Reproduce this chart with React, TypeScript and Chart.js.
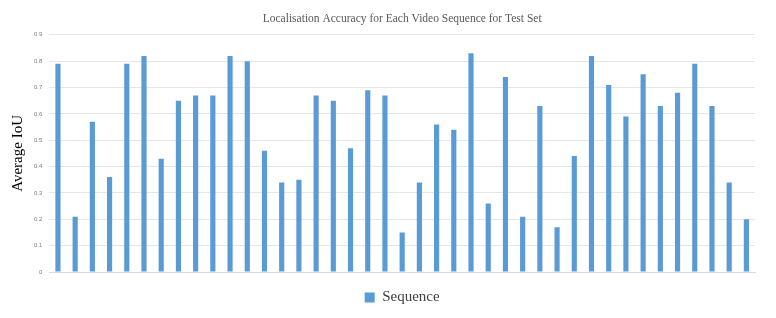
import React, { useEffect, useRef } from "react";
import { Chart, registerables } from "chart.js";

Chart.register(...registerables);

const categories: string[] = Array.from({ length: 41 }, (_, i) => `${i + 1}`);
const sequenceValues: number[] = [
  0.79, 0.21, 0.57, 0.36, 0.79, 0.82, 0.43, 0.65, 0.67, 0.67,
  0.82, 0.80, 0.46, 0.34, 0.35, 0.67, 0.65, 0.47, 0.69, 0.67,
  0.15, 0.34, 0.56, 0.54, 0.83, 0.26, 0.74, 0.21, 0.63, 0.17,
  0.44, 0.82, 0.71, 0.59, 0.75, 0.63, 0.68, 0.79, 0.63, 0.34,
  0.20,
];
const yTicks: number[] = [0, 0.1, 0.2, 0.3, 0.4, 0.5, 0.6, 0.7, 0.8, 0.9];

const SERIF = "'Liberation Serif', 'Times New Roman', serif";

export default function App() {
  const ref = useRef<HTMLCanvasElement>(null);
  useEffect(() => {
    document.body.style.margin = "0";
    const chart = new Chart(ref.current!, {
      type: "bar",
      data: {
        labels: categories,
        datasets: [
          {
            label: "Sequence",
            data: sequenceValues,
            backgroundColor: "#5B9BD5",
            borderWidth: 0,
            barPercentage: 0.3,
            categoryPercentage: 1,
          },
        ],
      },
      options: {
        animation: false,
        responsive: false,
        maintainAspectRatio: false,
        layout: { padding: { left: 2, right: 21, top: 10, bottom: 3 } },
        plugins: {
          title: {
            display: true,
            fullSize: false,
            text: "Localisation Accuracy for Each Video Sequence for Test Set",
            color: "#595959",
            font: { family: SERIF, size: 11.5, weight: "normal" },
            padding: { top: 2, bottom: 9 },
          },
          legend: {
            position: "bottom",
            fullSize: false,
            labels: {
              color: "#404040",
              font: { family: SERIF, size: 15 },
              boxWidth: 10,
              boxHeight: 10,
              padding: 10,
            },
          },
          tooltip: { enabled: false },
        },
        scales: {
          x: {
            ticks: { display: false },
            grid: { display: false },
            border: { display: true, color: "#d9d9d9" },
          },
          y: {
            min: 0,
            max: 0.9,
            afterBuildTicks: (axis: any) => {
              axis.ticks = yTicks.map((v) => ({ value: v }));
            },
            ticks: {
              color: "#7f7f7f",
              font: { family: "'Liberation Sans', Arial, sans-serif", size: 6 },
              padding: 7,
              callback: (v: any) => `${Math.round(Number(v) * 10) / 10}`,
            },
            grid: { color: "#e6e6e6", drawTicks: false },
            border: { display: false },
            title: {
              display: true,
              text: "Average IoU",
              color: "#000000",
              font: { family: SERIF, size: 15 },
              padding: { top: 7, bottom: 0 },
            },
          },
        },
      },
    });
    return () => chart.destroy();
  }, []);
  return (
    <div style={{ width: 776, height: 318 }}>
      <canvas ref={ref} width={776} height={318} style={{ display: "block" }} />
    </div>
  );
}
